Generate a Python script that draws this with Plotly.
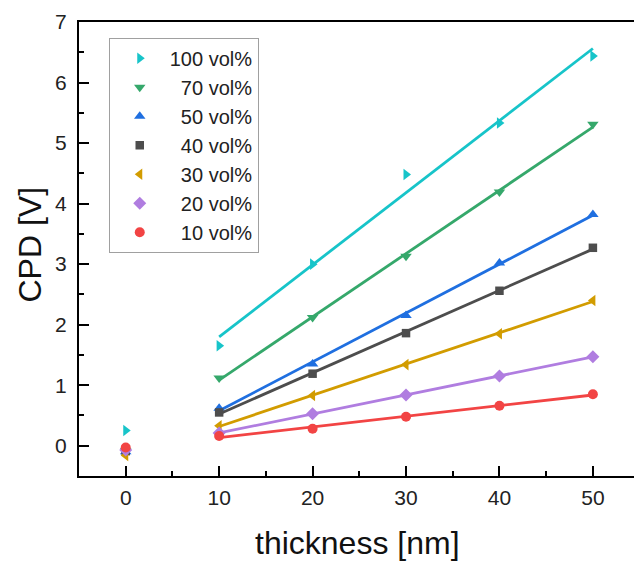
import numpy as np
import plotly.graph_objects as go

thickness = [0, 10, 20, 30, 40, 50]
labels = ["100 vol%", "70 vol%", "50 vol%", "40 vol%", "30 vol%", "20 vol%", "10 vol%"]
cpd_100 = [0.25, 1.65, 3.00, 4.48, 5.33, 6.44]
cpd_70 = [-0.08, 1.12, 2.12, 3.13, 4.19, 5.31]
cpd_50 = [-0.10, 0.62, 1.35, 2.15, 3.02, 3.82]
cpd_40 = [-0.09, 0.55, 1.19, 1.86, 2.56, 3.27]
cpd_30 = [-0.16, 0.33, 0.83, 1.34, 1.85, 2.40]
cpd_20 = [-0.07, 0.21, 0.53, 0.84, 1.15, 1.47]
cpd_10 = [-0.03, 0.16, 0.28, 0.48, 0.66, 0.85]

series = [cpd_100, cpd_70, cpd_50, cpd_40, cpd_30, cpd_20, cpd_10]
colors = ["#17C4C9", "#35A86B", "#1F6FE0", "#4D4D4D", "#D29C00", "#B07DE0", "#F24444"]
symbols = ["triangle-right", "triangle-down", "triangle-up", "square", "triangle-left", "diamond", "circle"]

fig = go.Figure()
for i, (lab, ys, c, s) in enumerate(zip(labels, series, colors, symbols)):
    xs = np.array(thickness[1:], dtype=float)
    yv = np.array(ys[1:], dtype=float)
    k, b = np.polyfit(xs, yv, 1)
    fig.add_trace(go.Scatter(x=[xs[0], xs[-1]], y=[k * xs[0] + b, k * xs[-1] + b], mode="lines",
                             line=dict(color=c, width=2.8), showlegend=False, hoverinfo="skip"))
    name = lab if lab.startswith("100") else "\u00a0\u00a0" + lab
    fig.add_trace(go.Scatter(x=thickness, y=ys, mode="markers", name=name,
                             marker=dict(symbol=s, color=c, size=10 if s != "square" else 8.5, line=dict(width=0))))

axis_font = "Liberation Sans, Arial, sans-serif"
fig.update_layout(
    width=634, height=563,
    margin=dict(l=79, r=0, t=22, b=87),
    paper_bgcolor="white", plot_bgcolor="white",
    font=dict(family=axis_font, color="black"),
    showlegend=True,
    legend=dict(x=0.0536, y=0.9654, xanchor="left", yanchor="top",
                bordercolor="#A0A0A0", borderwidth=1, bgcolor="white",
                font=dict(size=20, color="#222222"), itemwidth=50, tracegroupgap=0, traceorder="normal"),
    xaxis=dict(range=[-5, 54.4], tickvals=[0, 10, 20, 30, 40, 50], showgrid=False, zeroline=False,
               showline=True, linecolor="black", linewidth=2, mirror=True,
               ticks="inside", ticklen=10, tickwidth=2, tickcolor="black",
               minor=dict(dtick=5, ticks="inside", ticklen=5, tickwidth=2, tickcolor="black"),
               tickfont=dict(size=21, color="#222222"), ticklabelstandoff=2),
    yaxis=dict(range=[-0.5, 7], tickvals=[0, 1, 2, 3, 4, 5, 6, 7], showgrid=False, zeroline=False,
               showline=True, linecolor="black", linewidth=2,
               ticks="inside", ticklen=10, tickwidth=2, tickcolor="black",
               minor=dict(dtick=0.5, ticks="inside", ticklen=5, tickwidth=2, tickcolor="black"),
               tickfont=dict(size=21, color="#222222"), ticklabelstandoff=6),
    annotations=[
        dict(text="thickness [nm]", x=357, y=543, xref="paper", yref="paper", showarrow=False,
             font=dict(size=32, color="#111111"), xanchor="center", yanchor="middle"),
        dict(text="CPD [V]", x=29.5, y=245, xref="paper", yref="paper", showarrow=False, textangle=-90,
             font=dict(size=32, color="#111111"), xanchor="center", yanchor="middle"),
    ],
)
# convert pixel-based title anchors to paper coordinates
W, H, L, R, T, B = 634, 563, 79, 0, 22, 87
pw, ph = W - L - R, H - T - B
for a in fig.layout.annotations:
    a.x = (a.x - L) / pw
    a.y = (H - B - a.y) / ph
fig.write_html("out.html")
